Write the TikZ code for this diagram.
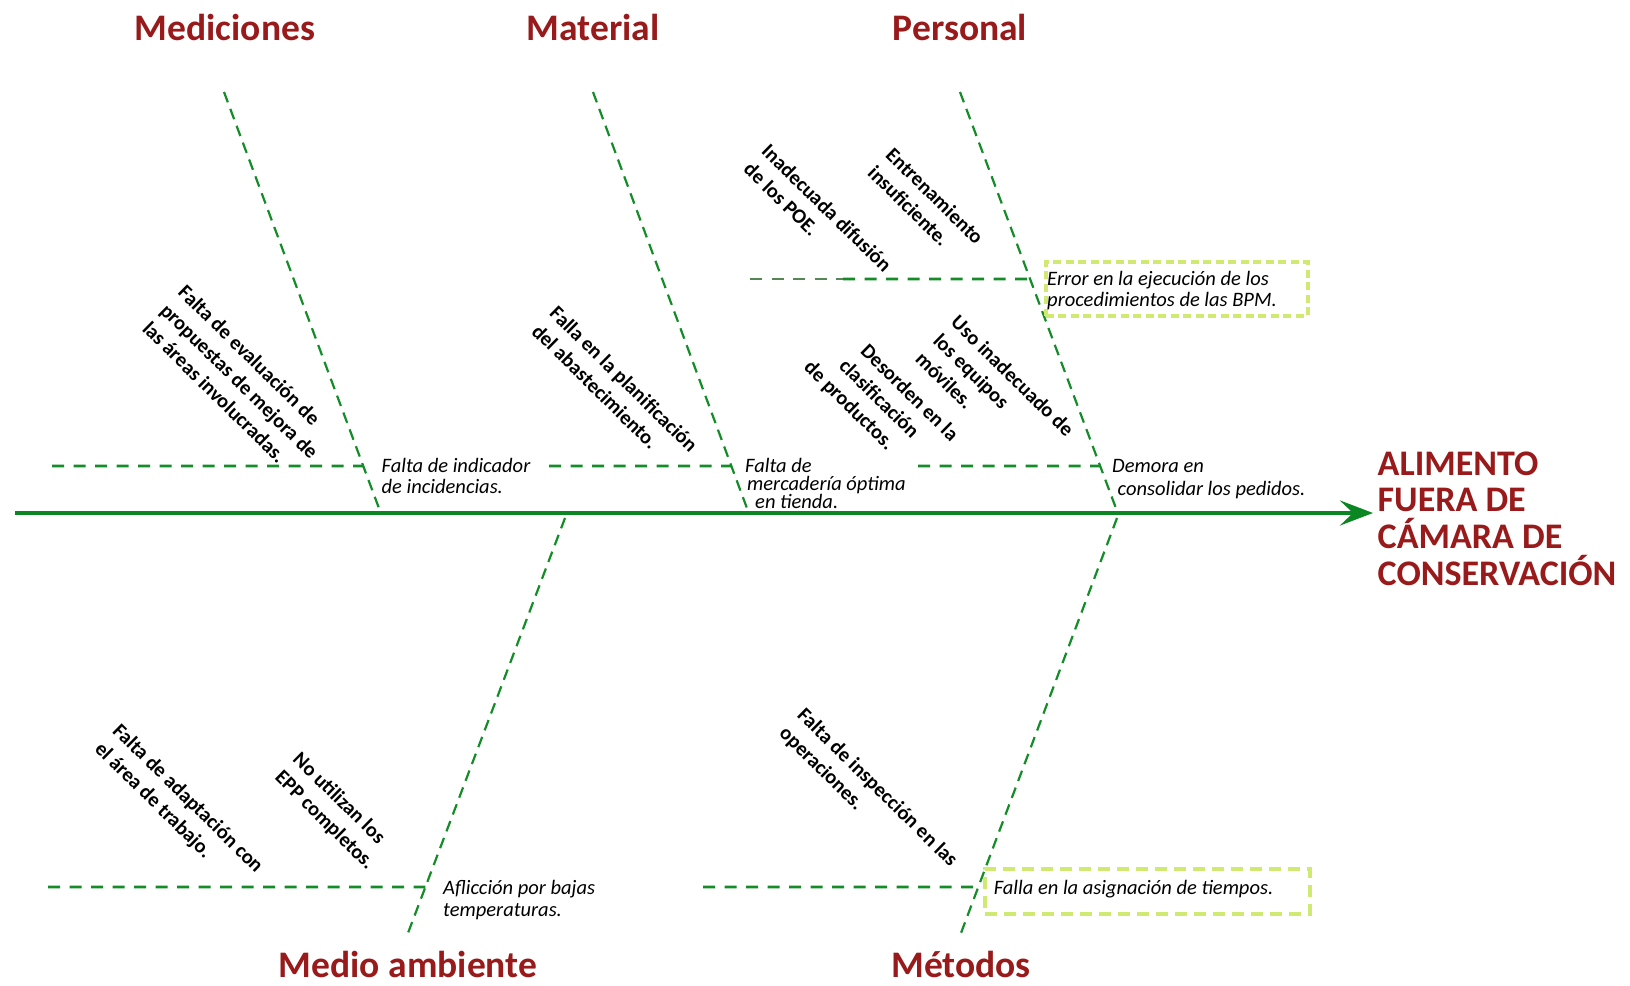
\documentclass[tikz,border=0pt]{standalone}
\usepackage{fontspec}
\setmainfont{Carlito}
\usetikzlibrary{arrows.meta,calc}

\definecolor{causeRed}{RGB}{152,26,26}
\definecolor{spineGreen}{RGB}{10,135,35}
\definecolor{boneGreen}{RGB}{20,140,40}
\definecolor{dullGreen}{RGB}{85,135,85}
\definecolor{boxGreen}{RGB}{208,233,112}

\tikzset{
  category/.style={font=\fontsize{37.5}{37.5}\selectfont\bfseries, text=causeRed, inner sep=0pt, anchor=base},
  effect/.style={font=\fontsize{36}{36.7}\selectfont\bfseries, text=causeRed, inner sep=0pt, align=left, anchor=north west},
  cause/.style={font=\fontsize{20.5}{25.5}\selectfont\bfseries, inner sep=0pt, align=left, rotate=-44.5, anchor=center},
  subcause/.style={font=\fontsize{20.5}{21}\selectfont\itshape, inner sep=0pt, align=left, anchor=north west},
  spine/.style={line width=4.3pt, draw=spineGreen, -{Stealth[length=33pt,width=25pt,inset=13pt]}},
  bone/.style={line width=2.2pt, draw=boneGreen, dash pattern=on 11pt off 7pt},
  twig/.style={line width=2.8pt, draw=boneGreen, dash pattern=on 12pt off 9.5pt},
  hlbox/.style={line width=3.5pt, draw=boxGreen, inner sep=0pt, anchor=north west},
}

\begin{document}
\begin{tikzpicture}[x=1pt,y=-1pt]
\useasboundingbox (0,0) rectangle (1630,985);

% category headings
\node[category] (cMed) at (225,40) {Mediciones};
\node[category] (cMat) at (593,40) {Material};
\node[category] (cPer) at (960,40) {Personal};
\node[category] (cAmb) at (408,977) {Medio ambiente};
\node[category] (cMet) at (961,977) {Métodos};

% effect (head of the fish)
\node[effect] (effect) at (1377.5,451.3) {ALIMENTO\\FUERA DE\\CÁMARA DE\\CONSERVACIÓN};

% spine
\coordinate (tail) at (15,513);
\coordinate (headBase) at (tail -| effect.west);
\coordinate (head) at ($(headBase)+(-4.5,0)$);
\draw[spine] (tail) -- (head);

% main bones
\coordinate (medTop) at (224,92);   \coordinate (medBot) at (380,511);
\coordinate (matTop) at (593,92);   \coordinate (matBot) at (748,511);
\coordinate (perTop) at (960,92);   \coordinate (perBot) at (1117,511);
\coordinate (ambTop) at (565,518);  \coordinate (ambBot) at (408,933);
\coordinate (metTop) at (1117,518); \coordinate (metBot) at (961,933);
\draw[bone] (medTop) -- (medBot);
\draw[bone] (matTop) -- (matBot);
\draw[bone] (perTop) -- (perBot);
\draw[bone] (ambTop) -- (ambBot);
\draw[bone] (metTop) -- (metBot);

% secondary branches
\coordinate (medJ) at ($(medTop)!{(466-92)/(511-92)}!(medBot)$);
\coordinate (matJ) at ($(matTop)!{(466-92)/(511-92)}!(matBot)$);
\coordinate (perJ) at ($(perTop)!{(466-92)/(511-92)}!(perBot)$);
\coordinate (perK) at ($(perTop)!{(279-92)/(511-92)}!(perBot)$);
\coordinate (ambJ) at ($(ambTop)!{(887-518)/(933-518)}!(ambBot)$);
\coordinate (metJ) at ($(metTop)!{(887-518)/(933-518)}!(metBot)$);
\coordinate (medL) at (52,466);
\coordinate (matL) at (549,466);
\coordinate (perL) at (918,466);
\coordinate (perU) at (750,279);
\coordinate (perM) at (843,279);
\coordinate (ambL) at (48,887);
\coordinate (metL) at (703,887);
\draw[twig] (medL) -- (medJ);
\draw[twig] (matL) -- (matJ);
\draw[twig] (perL) -- (perJ);
\draw[twig, draw=dullGreen] (perU) -- (perM);
\draw[twig] (perM) -- (perK);
\draw[twig] (ambL) -- (ambJ);
\draw[twig] (metL) -- (metJ);

% highlighted frames
\node[hlbox, dash pattern=on 8pt off 4.5pt, minimum width=262pt, minimum height=54pt] (errBox) at (1044,260) {};
\node[hlbox, dash pattern=on 12pt off 7pt, minimum width=325pt, minimum height=45pt] (timeBox) at (983,867) {};

% branch labels
\node[subcause] (indic) at (381.5,458) {Falta de indicador\\de incidencias.};
\node[subcause, font=\fontsize{20.5}{18}\selectfont\itshape] (merc) at (745,458.5) {Falta de\\\hspace*{2pt}mercadería óptima\\\hspace*{10pt}en tienda.};
\node[subcause, font=\fontsize{20.5}{23}\selectfont\itshape] (demora) at (1112,459) {Demora en\\\hspace*{5.5pt}consolidar los pedidos.};
\node[subcause, font=\fontsize{20.5}{20.5}\selectfont\itshape] (error) at (1047,271.5) {Error en la ejecución de los\\procedimientos de las BPM.};
\node[subcause, anchor=base west] (tiempos) at (993.6,894.5) {Falla en la asignación de tiempos.};
\node[subcause, font=\fontsize{20.5}{21.5}\selectfont\itshape] (aflic) at (443,880.5) {Aflicción por bajas\\temperaturas.};

% rotated causes
\node[cause] (evalProp) at (239.5,381) {Falta de evaluación de\\propuestas de mejora de\\las áreas involucradas.};
\node[cause] (planAbast) at (615,388) {Falla en la planificación\\del abastecimiento.};
\node[cause] (difPOE) at (818,217) {Inadecuada difusión\\de los POE.};
\node[cause] (entren) at (926,205) {Entrenamiento\\insuficiente.};
\node[cause] (usoEq) at (995,394) {Uso inadecuado de\\los equipos\\móviles.};
\node[cause] (desorden) at (880.7,401.5) {\hspace*{29pt}Desorden en la\\\hspace*{24pt}clasificación\\de productos.};
\node[cause] (adapt) at (178.5,808) {Falta de adaptación con\\el área de trabajo.};
\node[cause] (epp) at (333.4,811.5) {No utilizan los\\EPP completos.};
\node[cause] (inspec) at (868,797) {Falta de inspección en las\\operaciones.};
\end{tikzpicture}
\end{document}
